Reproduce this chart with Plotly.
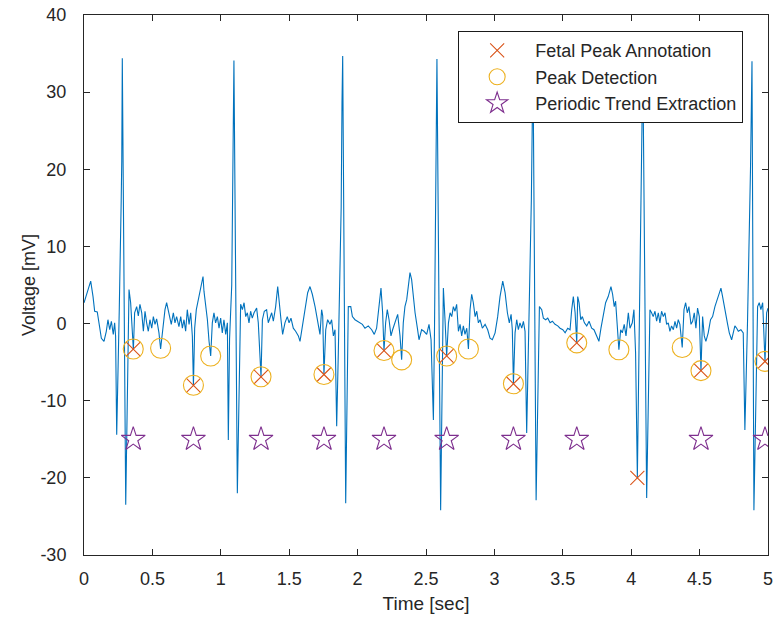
import plotly.graph_objects as go

# ---- ECG signal (time in sec, voltage in mV) ----
sig_t = [0.000, 0.019, 0.049, 0.066, 0.078, 0.097, 0.110, 0.127, 0.146, 0.163, 0.175, 0.188, 0.200, 0.214, 0.224, 0.231,
         0.239, 0.249, 0.258, 0.272, 0.276, 0.280, 0.305, 0.329, 0.341, 0.361, 0.370, 0.385, 0.397, 0.409, 0.422, 0.434,
         0.446, 0.458, 0.470, 0.482, 0.495, 0.507, 0.519, 0.531, 0.548, 0.560, 0.573, 0.592, 0.604, 0.616, 0.629, 0.638,
         0.653, 0.665, 0.677, 0.694, 0.707, 0.719, 0.731, 0.743, 0.755, 0.768, 0.780, 0.792, 0.800, 0.809, 0.821, 0.836,
         0.848, 0.870, 0.877, 0.889, 0.902, 0.914, 0.926, 0.938, 0.950, 0.962, 0.975, 0.987, 0.999, 1.011, 1.023, 1.036,
         1.048, 1.055, 1.064, 1.080, 1.088, 1.092, 1.096, 1.121, 1.145, 1.158, 1.170, 1.182, 1.194, 1.206, 1.218, 1.230,
         1.243, 1.262, 1.274, 1.294, 1.304, 1.318, 1.335, 1.347, 1.360, 1.372, 1.384, 1.401, 1.416, 1.428, 1.440, 1.452,
         1.469, 1.486, 1.499, 1.513, 1.530, 1.547, 1.567, 1.579, 1.596, 1.615, 1.635, 1.652, 1.669, 1.689, 1.708, 1.725,
         1.737, 1.745, 1.754, 1.767, 1.781, 1.798, 1.810, 1.823, 1.835, 1.847, 1.859, 1.880, 1.886, 1.891, 1.913, 1.932,
         1.950, 1.962, 1.981, 2.000, 2.018, 2.035, 2.054, 2.078, 2.103, 2.122, 2.139, 2.156, 2.171, 2.183, 2.193, 2.205,
         2.217, 2.230, 2.244, 2.256, 2.273, 2.293, 2.310, 2.322, 2.334, 2.346, 2.359, 2.371, 2.383, 2.395, 2.407, 2.420,
         2.437, 2.449, 2.468, 2.485, 2.505, 2.522, 2.537, 2.554, 2.562, 2.572, 2.580, 2.607, 2.627, 2.639, 2.651, 2.664,
         2.676, 2.688, 2.700, 2.712, 2.724, 2.737, 2.749, 2.761, 2.773, 2.785, 2.798, 2.810, 2.822, 2.834, 2.846, 2.859,
         2.871, 2.883, 2.895, 2.912, 2.932, 2.951, 2.968, 2.985, 3.005, 3.024, 3.041, 3.061, 3.078, 3.095, 3.109, 3.122,
         3.131, 3.139, 3.151, 3.163, 3.175, 3.187, 3.200, 3.212, 3.224, 3.236, 3.248, 3.270, 3.282, 3.305, 3.329, 3.346,
         3.358, 3.375, 3.390, 3.407, 3.424, 3.443, 3.463, 3.480, 3.500, 3.517, 3.536, 3.553, 3.565, 3.577, 3.590, 3.602,
         3.609, 3.619, 3.631, 3.643, 3.658, 3.675, 3.692, 3.711, 3.728, 3.748, 3.764, 3.779, 3.796, 3.813, 3.832, 3.852,
         3.864, 3.876, 3.886, 3.898, 3.910, 3.923, 3.935, 3.949, 3.962, 3.979, 3.991, 4.008, 4.020, 4.032, 4.045, 4.058,
         4.075, 4.085, 4.113, 4.137, 4.149, 4.161, 4.174, 4.186, 4.198, 4.210, 4.222, 4.235, 4.247, 4.259, 4.271, 4.283,
         4.295, 4.308, 4.320, 4.332, 4.344, 4.356, 4.373, 4.386, 4.398, 4.410, 4.422, 4.437, 4.449, 4.461, 4.473, 4.485,
         4.498, 4.510, 4.522, 4.534, 4.546, 4.563, 4.580, 4.595, 4.612, 4.630, 4.642, 4.656, 4.668, 4.680, 4.693, 4.705,
         4.717, 4.734, 4.746, 4.758, 4.771, 4.783, 4.802, 4.819, 4.831, 4.850, 4.872, 4.883, 4.897, 4.924, 4.936, 4.948,
         4.961, 4.978, 4.990, 5.000]
sig_v = [2.7, 3.8, 5.5, 3.5, 1.6, 1.5, -0.1, -1.9, -2.3, -1.0, 0.5, -0.8, 0.3, -1.4, 0.1, -1.6,
         -14.4, -3.0, 2.0, 16.0, 21.0, 34.4, -23.5, 4.4, 2.7, -3.4, 1.4, 2.2, 1.0, 2.5, 1.4, -1.0,
         1.6, 0.1, -1.0, 0.5, -0.6, 0.9, -0.1, 0.6, -1.2, -3.3, -0.8, 1.8, 2.7, 1.6, 0.9, -0.1,
         1.4, 0.1, 0.9, -0.4, 0.9, -0.6, 0.5, -1.0, 1.8, -0.1, 1.4, -1.6, -8.0, -0.6, 1.8, 3.1,
         4.4, 6.1, 4.2, 2.3, 0.5, -2.3, -4.2, 0.1, 1.4, 0.1, 0.9, -0.6, 0.7, -1.2, 0.5, -1.4,
         0.1, -15.1, -2.0, 5.0, 17.4, 24.8, 34.1, -22.0, 2.5, 1.8, 2.7, 0.9, 1.4, 0.1, 1.6, 0.7,
         1.4, 2.0, 0.1, -6.9, 0.5, 1.6, 1.8, 0.1, 0.7, 1.4, 0.3, 2.2, 4.8, 2.2, 0.5, -1.4,
         0.1, 0.9, 0.1, 0.7, -0.6, -1.0, -1.6, -2.3, -0.3, 2.2, 4.0, 4.8, 3.8, 2.2, 0.5, -1.4,
         1.8, 1.0, -6.6, -0.8, 0.5, -0.1, 0.5, -1.6, -0.8, -13.3, -3.8, 15.1, 28.7, 34.7, -23.3, 2.2,
         2.2, 0.9, 0.5, 0.3, 0.1, -0.1, -0.6, -0.3, -0.8, -1.4, -0.6, 1.8, 4.6, 1.4, -3.5, 0.1,
         1.8, 0.5, -1.6, -0.8, 0.1, 1.2, -1.6, -4.7, 0.1, 2.2, 3.1, 5.3, 6.6, 5.7, 3.1, 1.4,
         -0.6, -2.1, -0.8, -1.0, -1.4, -0.1, -2.1, -12.5, -1.0, 15.0, 34.3, -24.2, 4.6, 0.5, -4.2, 0.1,
         1.4, 0.9, 2.2, 1.6, 2.5, -1.0, -0.1, -1.6, -0.3, -1.4, -0.6, -3.3, 1.8, 3.8, 2.7, 0.9,
         1.6, 0.1, 0.5, -0.6, -0.1, -0.8, -1.9, -2.1, -1.2, 0.9, 3.5, 5.5, 4.0, 1.4, 0.1, 1.2,
         -0.8, -7.8, -1.2, 0.5, -0.8, 0.1, -0.6, 0.3, -1.0, -14.2, -3.8, 16.0, 34.0, -22.9, 2.2, 1.8,
         0.7, 0.5, 0.7, 0.1, 0.3, -0.1, -0.3, -0.6, -0.8, -1.2, -0.6, -0.8, 1.8, 3.5, 1.4, -2.5,
         3.5, 2.7, 0.5, 0.9, 0.1, -0.3, 0.3, -0.6, -0.8, -1.6, -2.3, -0.6, 0.9, 2.7, 3.5, 4.8,
         3.8, 2.2, 2.9, 0.1, -3.4, -0.8, -1.2, -0.1, -1.6, 1.4, -0.6, 0.1, 1.8, -3.8, -20.0, -2.0,
         18.0, 34.0, -22.6, 1.8, 1.4, 0.9, 1.6, 0.3, 1.4, 0.1, 1.6, 0.9, 1.4, -0.1, 0.1, -1.0,
         -0.3, -0.8, 0.3, -0.6, 0.5, -0.1, -3.1, 1.8, 2.7, 1.4, 2.2, -0.1, 0.3, 1.4, -0.6, 2.0,
         0.9, -6.1, 0.9, -1.6, -2.3, -1.2, 0.5, 0.9, 2.2, 3.1, 3.8, 4.6, 3.5, 2.2, 0.9, -0.1,
         -1.2, -2.1, -1.2, -0.3, -0.6, -1.0, -0.8, -1.2, -13.8, 0.0, 20.0, 34.0, -24.2, 2.2, 2.7, 1.8,
         2.7, -4.9, 1.4, 2.0]

# ---- Fetal peak annotation (x markers) ----
ann_t = [0.360, 0.800, 1.294, 1.754, 2.193, 2.651, 3.139, 3.602, 4.045, 4.510, 4.978]
ann_v = [-3.3, -8.0, -6.9, -6.6, -3.5, -4.2, -7.8, -2.5, -20.0, -6.1, -4.9]

# ---- Peak detection (circles) ----
det_t = [0.360, 0.560, 0.800, 0.926, 1.294, 1.754, 2.193, 2.322, 2.651, 2.810, 3.139, 3.602, 3.910, 4.373, 4.510, 4.978]
det_v = [-3.3, -3.2, -8.0, -4.2, -6.9, -6.6, -3.5, -4.7, -4.2, -3.3, -7.8, -2.5, -3.4, -3.1, -6.1, -4.9]

# ---- Periodic trend extraction (stars) ----
trend_t = [0.360, 0.800, 1.294, 1.754, 2.193, 2.651, 3.139, 3.602, 4.510, 4.978]
trend_v = [-15, -15, -15, -15, -15, -15, -15, -15, -15, -15]

x_ticks = [0, 0.5, 1, 1.5, 2, 2.5, 3, 3.5, 4, 4.5, 5]
x_tick_labels = ["0", "0.5", "1", "1.5", "2", "2.5", "3", "3.5", "4", "4.5", "5"]
y_ticks = [-30, -20, -10, 0, 10, 20, 30, 40]
y_tick_labels = ["-30", "-20", "-10", "0", "10", "20", "30", "40"]

BLUE = "#0072BD"
ORANGE = "#D95319"
YELLOW = "#EDB120"
PURPLE = "#7E2F8E"
TXT = "#262626"
FONT = "Liberation Sans, Arial, Helvetica, sans-serif"

fig = go.Figure()
fig.add_trace(go.Scatter(x=sig_t, y=sig_v, mode="lines", line=dict(color=BLUE, width=1.1),
                         showlegend=False, hoverinfo="skip"))
fig.add_trace(go.Scatter(x=ann_t, y=ann_v, mode="markers", name="Fetal Peak Annotation",
                         legendgroup="a", legendrank=1,
                         marker=dict(symbol="x-thin-open", size=14, color=ORANGE,
                                     line=dict(color=ORANGE, width=1.1))))
fig.add_trace(go.Scatter(x=det_t, y=det_v, mode="markers", name="Peak Detection",
                         legendgroup="b", legendrank=2,
                         marker=dict(symbol="circle-open", size=20, color=YELLOW,
                                     line=dict(color=YELLOW, width=1.1))))
fig.add_trace(go.Scatter(x=trend_t, y=trend_v, mode="markers", name="Periodic Trend Extraction",
                         legendgroup="c", legendrank=3,
                         marker=dict(symbol="star-open", size=18, color=PURPLE,
                                     line=dict(color=PURPLE, width=1.1))))

axis_common = dict(showline=True, linecolor=TXT, linewidth=1, mirror="ticks", ticks="inside",
                   ticklen=6, tickcolor=TXT, showgrid=False, zeroline=False, automargin=False,
                   ticklabeloverflow="allow",
                   tickfont=dict(family=FONT, size=18, color=TXT))
fig.update_xaxes(range=[0, 5], tickvals=x_ticks, ticktext=x_tick_labels, ticklabelstandoff=7,
                 title=dict(text="Time [sec]", font=dict(family=FONT, size=19, color=TXT), standoff=9),
                 **axis_common)
fig.update_yaxes(range=[-30, 40], tickvals=y_ticks, ticktext=y_tick_labels, ticklabelstandoff=13,
                 title=dict(text="Voltage [mV]", font=dict(family=FONT, size=18, color=TXT), standoff=0),
                 **axis_common)

fig.update_layout(
    width=778, height=629,
    margin=dict(l=84, r=10, t=15, b=74),
    paper_bgcolor="white", plot_bgcolor="white",
    font=dict(family=FONT, color=TXT),
    legend=dict(x=0.547, y=0.97, xanchor="left", yanchor="top",
                bgcolor="white", bordercolor="#1a1a1a", borderwidth=1,
                font=dict(family=FONT, size=18, color=TXT),
                itemwidth=66, tracegroupgap=0),
)

# remove the default 8 px page margin so the figure fills the window exactly
fig.write_html("out.html", config={"displayModeBar": False},
               post_script="document.body.style.margin='0';")
